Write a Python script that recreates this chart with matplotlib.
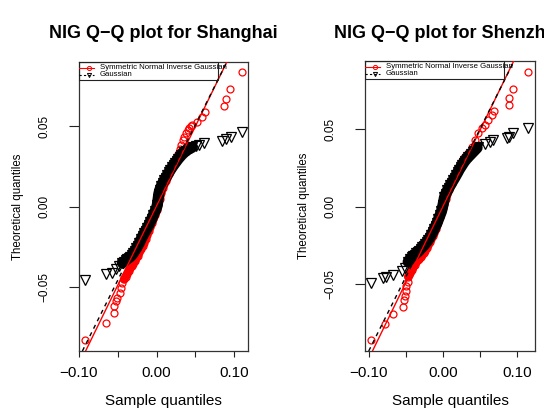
import matplotlib
matplotlib.use("Agg")
import matplotlib.pyplot as plt
import numpy as np
from matplotlib.lines import Line2D
from matplotlib.patches import Rectangle

plt.rcParams['font.family'] = ['Liberation Sans', 'DejaVu Sans']

# ---------------- data ----------------
titles = ["NIG Q\u2212Q plot for Shanghai", "NIG Q\u2212Q plot for Shenzhen"]
xlabel = "Sample quantiles"
ylabel = "Theoretical quantiles"
legend_labels = ["Symmetric Normal Inverse Gaussian", "Gaussian"]
xticks = [-0.10, -0.05, 0.00, 0.05, 0.10]
xticklabels = ["\u22120.10", "", "0.00", "", "0.10"]
yticks = [-0.05, 0.00, 0.05]
yticklabels = ["\u22120.05", "0.00", "0.05"]

# Shanghai: NIG theoretical quantiles vs sample quantiles
sh_nig_x = [-0.0923, -0.0656, -0.0549, -0.0549, -0.0527, -0.0507, -0.0476, -0.0463, -0.0442,
            -0.0420, -0.040, -0.038, -0.036, -0.034, -0.032, -0.030, -0.028, -0.026, -0.024,
            -0.022, -0.020, -0.018, -0.016, -0.014, -0.012, -0.010, -0.008, -0.006, -0.004,
            -0.002, 0.000, 0.002, 0.004, 0.006, 0.008, 0.010, 0.012, 0.014, 0.016, 0.018,
            0.020, 0.022, 0.024, 0.026, 0.028, 0.030, 0.032, 0.034, 0.036, 0.038, 0.040,
            0.042, 0.044, 0.046, 0.0525, 0.0590, 0.0624, 0.0869, 0.0891, 0.0942, 0.1097]
sh_nig_y = [-0.0830, -0.0722, -0.0660, -0.0619, -0.0588, -0.0567, -0.0536, -0.0505, -0.0474,
            -0.0453, -0.0437, -0.0420, -0.0400, -0.0385, -0.0370, -0.0355, -0.0340, -0.0322, -0.0305,
            -0.0285, -0.0265, -0.0245, -0.0225, -0.0200, -0.0175, -0.0150, -0.0126, -0.0102, -0.0078,
            -0.0052, -0.0022, 0.0010, 0.0045, 0.0085, 0.0115, 0.0140, 0.0160, 0.0180, 0.0200, 0.0220,
            0.0240, 0.0260, 0.0280, 0.0300, 0.0325, 0.0355, 0.0385, 0.0412, 0.0435, 0.0455, 0.0475,
            0.0490, 0.0500, 0.0507, 0.0528, 0.0559, 0.0590, 0.0627, 0.0669, 0.0731, 0.0838]
# Shanghai: Gaussian theoretical quantiles vs sample quantiles
sh_gau_x = [-0.0923, -0.0656, -0.0571, -0.0527, -0.0484, -0.0442, -0.042, -0.040, -0.038, -0.036,
            -0.034, -0.032, -0.030, -0.028, -0.026, -0.024, -0.022, -0.020, -0.018, -0.016,
            -0.014, -0.012, -0.010, -0.008, -0.006, -0.004, -0.002, 0.000, 0.001, 0.002,
            0.003, 0.004, 0.006, 0.008, 0.010, 0.012, 0.014, 0.016, 0.018, 0.020, 0.022,
            0.024, 0.026, 0.028, 0.030, 0.032, 0.034, 0.036, 0.038, 0.040, 0.042, 0.044,
            0.046, 0.0504, 0.0547, 0.0611, 0.0847, 0.0891, 0.0955, 0.1097]
sh_gau_y = [-0.0458, -0.0422, -0.0412, -0.0391, -0.0371, -0.0350, -0.0342, -0.0335, -0.0327, -0.0320,
            -0.0313, -0.0303, -0.0290, -0.0275, -0.0260, -0.0243, -0.0225, -0.0204, -0.0185, -0.0167,
            -0.0150, -0.0133, -0.0115, -0.0095, -0.0075, -0.0052, -0.0030, -0.0008, 0.0010, 0.0045,
            0.0080, 0.0100, 0.0125, 0.0145, 0.0163, 0.0180, 0.0196, 0.0212, 0.0228, 0.0243, 0.0257,
            0.0270, 0.0283, 0.0296, 0.0307, 0.0318, 0.0328, 0.0337, 0.0345, 0.0352, 0.0358, 0.0363,
            0.0368, 0.0373, 0.0383, 0.0393, 0.0404, 0.0420, 0.0435, 0.0466]

# Shenzhen: NIG
sz_nig_x = [-0.0964, -0.0784, -0.0672, -0.0537, -0.0523, -0.0514, -0.0504, -0.0491, -0.0477,
            -0.0469, -0.046, -0.044, -0.042, -0.040, -0.038, -0.036, -0.034, -0.032, -0.030,
            -0.028, -0.026, -0.024, -0.022, -0.020, -0.018, -0.016, -0.014, -0.012, -0.010,
            -0.008, -0.006, -0.004, -0.002, 0.000, 0.002, 0.004, 0.006, 0.008, 0.010, 0.012,
            0.014, 0.016, 0.018, 0.020, 0.022, 0.024, 0.026, 0.028, 0.030, 0.0342, 0.0387,
            0.0432, 0.0477, 0.0523, 0.0567, 0.0612, 0.0658, 0.0693, 0.0891, 0.0891, 0.0950, 0.1152]
sz_nig_y = [-0.0862, -0.0755, -0.0690, -0.0647, -0.0600, -0.0578, -0.0546, -0.0514, -0.0482,
            -0.0450, -0.0443, -0.0428, -0.0410, -0.0390, -0.0373, -0.0358, -0.0345, -0.0335, -0.0322,
            -0.0308, -0.0295, -0.0282, -0.0265, -0.0248, -0.0228, -0.0208, -0.0188, -0.0168, -0.0145,
            -0.0120, -0.0095, -0.0068, -0.0040, -0.0010, 0.0020, 0.0052, 0.0082, 0.0108, 0.0130, 0.0150,
            0.0170, 0.0190, 0.0210, 0.0230, 0.0250, 0.0270, 0.0290, 0.0305, 0.0320, 0.0344, 0.0387,
            0.0430, 0.0473, 0.0505, 0.0527, 0.0559, 0.0591, 0.0617, 0.0656, 0.0699, 0.0759, 0.0871]
# Shenzhen: Gaussian
sz_gau_x = [-0.0964, -0.0807, -0.0761, -0.0672, -0.0558, -0.0514, -0.0469, -0.044, -0.042, -0.040,
            -0.038, -0.036, -0.034, -0.032, -0.030, -0.028, -0.026, -0.024, -0.022, -0.020,
            -0.018, -0.016, -0.014, -0.012, -0.010, -0.008, -0.006, -0.004, -0.002, 0.000,
            0.001, 0.002, 0.004, 0.006, 0.008, 0.010, 0.012, 0.014, 0.016, 0.018, 0.020,
            0.022, 0.024, 0.026, 0.028, 0.030, 0.032, 0.034, 0.036, 0.038, 0.040, 0.042,
            0.044, 0.046, 0.0477, 0.0567, 0.0635, 0.0679, 0.0860, 0.0891, 0.0950, 0.1152]
sz_gau_y = [-0.0492, -0.0460, -0.0454, -0.0439, -0.0417, -0.0396, -0.0355, -0.0335, -0.0325, -0.0316,
            -0.0310, -0.0300, -0.0293, -0.0283, -0.0272, -0.0262, -0.0252, -0.0240, -0.0228, -0.0215,
            -0.0200, -0.0183, -0.0165, -0.0145, -0.0125, -0.0105, -0.0080, -0.0055, -0.0030, 0.0010,
            0.0035, 0.0060, 0.0085, 0.0105, 0.0122, 0.0140, 0.0156, 0.0172, 0.0188, 0.0205, 0.0222,
            0.0240, 0.0255, 0.0270, 0.0285, 0.0298, 0.0310, 0.0320, 0.0330, 0.0340, 0.0350, 0.0360,
            0.0370, 0.0380, 0.0387, 0.0408, 0.0419, 0.0430, 0.0441, 0.0452, 0.0473, 0.0505]

# reference lines (intercept, slope)
sh_nig_line = (0.0004, 0.986)
sh_gau_line = (0.0024, 0.964)
sz_nig_line = (0.0003, 0.983)
sz_gau_line = (0.0025, 0.955)

# x-ranges where the points are so dense they merge into a solid band
sh_nig_dense = (-0.0425, 0.026)
sh_gau_dense = (-0.0445, 0.047)
sz_nig_dense = (-0.047, 0.030)
sz_gau_dense = (-0.047, 0.047)

panels = [
    dict(title=titles[0], nx=sh_nig_x, ny=sh_nig_y, gx=sh_gau_x, gy=sh_gau_y,
         nl=sh_nig_line, gl=sh_gau_line, nd=sh_nig_dense, gd=sh_gau_dense,
         rect=[79, 62, 248, 351], xlim=(-0.100, 0.118), ylim=(-0.0898, 0.0898)),
    dict(title=titles[1], nx=sz_nig_x, ny=sz_nig_y, gx=sz_gau_x, gy=sz_gau_y,
         nl=sz_nig_line, gl=sz_gau_line, nd=sz_nig_dense, gd=sz_gau_dense,
         rect=[365, 61, 535, 351], xlim=(-0.105, 0.124), ylim=(-0.093, 0.094)),
]

W, H = 544, 408
fig = plt.figure(figsize=(W / 100, H / 100), dpi=100)
fig.patch.set_facecolor('white')


def band(xs, ys, rng):
    xs = np.asarray(xs)
    ys = np.asarray(ys)
    m = (xs >= rng[0]) & (xs <= rng[1])
    return xs[m], ys[m]


for p in panels:
    l, t, r, b = p['rect']
    ax = fig.add_axes([l / W, 1 - b / H, (r - l) / W, (b - t) / H])
    ax.set_xlim(*p['xlim'])
    ax.set_ylim(*p['ylim'])

    bx, by = band(p['nx'], p['ny'], p['nd'])
    ax.plot(bx, by, color='#ff0000', lw=6, solid_capstyle='round', zorder=2)
    ax.plot(p['nx'], p['ny'], linestyle='none', marker='o', markersize=5,
            markerfacecolor='none', markeredgecolor='#ff0000', markeredgewidth=0.9, zorder=2)
    bx, by = band(p['gx'], p['gy'], p['gd'])
    ax.plot(bx, by, color='black', lw=8, solid_capstyle='round', zorder=3)
    ax.plot(p['gx'], p['gy'], linestyle='none', marker='v', markersize=6.5,
            markerfacecolor='none', markeredgecolor='black', markeredgewidth=0.9, zorder=3)
    ax.axline((0, p['nl'][0]), slope=p['nl'][1], color='#ff0000', lw=1.0, zorder=4)
    ax.axline((0, p['gl'][0]), slope=p['gl'][1], color='black', lw=1.0,
              linestyle=(0, (3, 3)), zorder=4)

    ax.set_xticks(xticks)
    ax.set_xticklabels(xticklabels, fontsize=11)
    ax.set_yticks(yticks)
    ax.set_yticklabels(yticklabels, fontsize=8.5, rotation=90, va='center')
    ax.tick_params(axis='x', length=4.5, width=0.8, pad=6, color='#222222')
    ax.tick_params(axis='y', length=7.5, width=0.8, pad=13, color='#222222')
    for s in ax.spines.values():
        s.set_linewidth(0.9)
        s.set_color('#333333')

    # legend (R style, top-left, box narrower than text)
    box_w = 139 / (r - l)
    box_h = 18 / (b - t)
    ax.add_patch(Rectangle((0, 1 - box_h), box_w, box_h, transform=ax.transAxes,
                           fill=False, edgecolor='#222222', lw=0.8, zorder=5))
    px = 1 / (r - l)
    py = 1 / (b - t)
    for i, (lab, col, mk, ls) in enumerate([(legend_labels[0], '#ff0000', 'o', '-'),
                                             (legend_labels[1], 'black', 'v', (0, (2, 2)))]):
        yy = 1 - (5.5 + 7 * i) * py
        ax.add_line(Line2D([0, 15 * px], [yy, yy], transform=ax.transAxes, color=col,
                           lw=0.8, linestyle=ls, zorder=6))
        ax.add_line(Line2D([10 * px], [yy], transform=ax.transAxes, color=col,
                           marker=mk, markersize=3, markerfacecolor='none',
                           markeredgewidth=0.7, linestyle='none', zorder=6))
        ax.text(21 * px, yy, lab, transform=ax.transAxes, fontsize=5.6,
                va='center', ha='left', zorder=6)

    cx = (l + r) / 2
    fig.text(cx / W, 1 - 34 / H, p['title'], fontsize=13, fontweight='bold',
             ha='center', va='center')
    fig.text(cx / W, 1 - 401 / H, xlabel, fontsize=11, ha='center', va='center')
    fig.text((l - 61) / W, 1 - ((t + b) / 2) / H, ylabel, fontsize=8.3,
             rotation=90, ha='center', va='center')

fig.savefig('out.png', dpi=100)
